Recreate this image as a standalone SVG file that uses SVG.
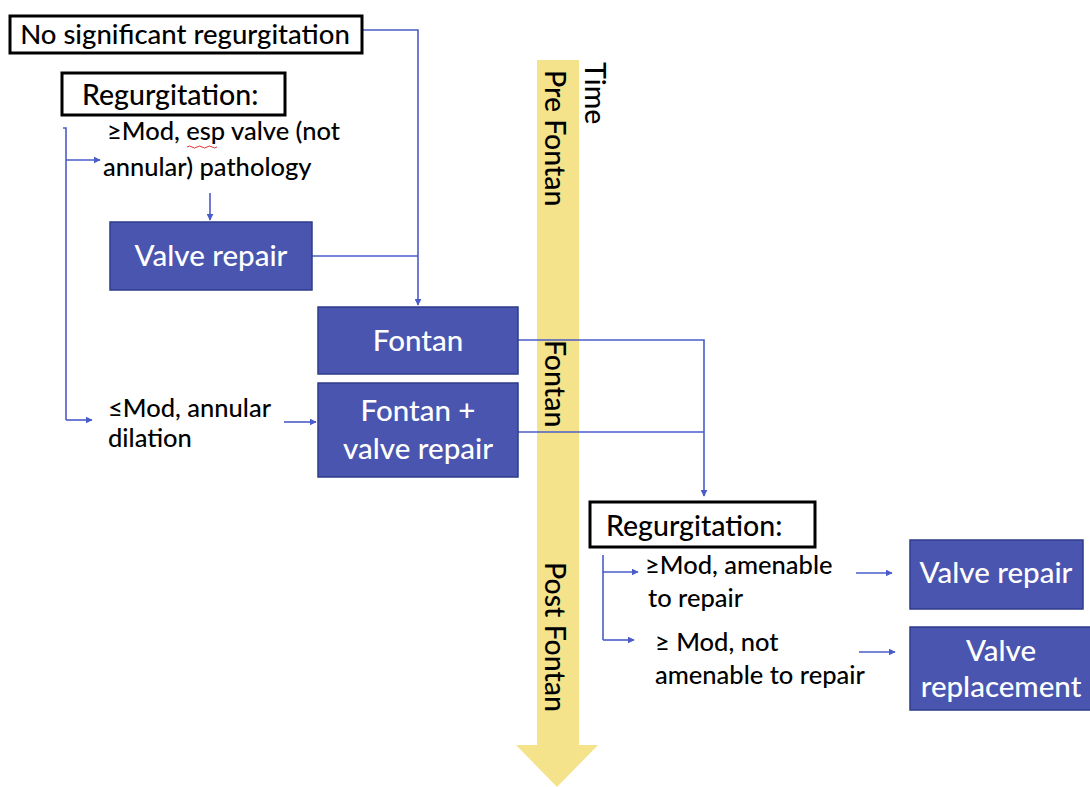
<svg xmlns="http://www.w3.org/2000/svg" width="1090" height="787" viewBox="0 0 1090 787">
<style>
text{font-family:Lato,"Liberation Sans",sans-serif;}
.box{fill:#4a55b0;stroke:#2e3b8c;stroke-width:1.5;}
.wt{fill:#fff;font-size:29.5px;text-anchor:middle;font-weight:500;}
.bt{fill:#000;font-size:25.5px;font-weight:500;}
.hb{fill:#fff;stroke:#000;stroke-width:3;}
.ln{fill:none;stroke:#4a5cc8;stroke-width:1.6;}
.ar{fill:none;stroke:#4a5cc8;stroke-width:1.6;marker-end:url(#ah);}
.vt{fill:#000;font-size:28.5px;font-weight:500;}
.ht{fill:#000;font-size:28.5px;font-weight:500;}
</style>
<defs>
<marker id="ah" viewBox="0 0 10 10" refX="9" refY="5" markerWidth="7" markerHeight="7" markerUnits="userSpaceOnUse" orient="auto"><path d="M0,0 L10,5 L0,10 z" fill="#4a5cc8"/></marker>
</defs>
<rect width="1090" height="787" fill="#fff"/>
<g id="timeline">
<path d="M537,60 H579 V745 H598 L557,787 L516,745 H537 Z" fill="#f4e38a"/>
<text class="vt" transform="translate(585,62) rotate(90)">Time</text>
<text class="vt" transform="translate(545,70) rotate(90)">Pre Fontan</text>
<text class="vt" transform="translate(545,340) rotate(90)">Fontan</text>
<text class="vt" transform="translate(545,562) rotate(90)">Post Fontan</text>
</g>
<g id="connectors">
<path class="ar" d="M362,30 H418 V305"/>
<path class="ln" d="M312,256 H418"/>
<path class="ln" d="M63,128 H66 V420"/>
<path class="ar" d="M66,160 H100"/>
<path class="ar" d="M66,420 H92"/>
<path class="ar" d="M210,193 V220"/>
<path class="ar" d="M284,422 H316"/>
<path class="ar" d="M518,340 H704 V496"/>
<path class="ln" d="M518,432 H704"/>
<path class="ln" d="M603,555 V640"/>
<path class="ar" d="M603,572 H638"/>
<path class="ar" d="M603,640 H634"/>
<path class="ar" d="M856,573 H892"/>
<path class="ar" d="M859,652 H895"/>
</g>
<g id="no-sig">
<rect class="hb" x="10" y="16" width="352" height="37"/>
<text class="ht" x="185" y="44" text-anchor="middle" style="font-size:27.5px">No significant regurgitation</text>
</g>
<g id="regurg-pre">
<rect class="hb" x="62" y="73" width="223" height="42"/>
<text class="ht" x="82" y="105">Regurgitation:</text>
</g>
<g id="opt-esp">
<text class="bt" x="107" y="140">≥Mod, esp valve (not</text>
<text class="bt" x="103" y="176">annular) pathology</text>
<path d="M187,147 q2.5,-2 5,0 t5,0 t5,0 t5,0 t5,0 t5,0" fill="none" stroke="#d33" stroke-width="1"/>
</g>
<g id="valve-repair-1">
<rect class="box" x="110" y="222" width="202" height="68"/>
<text class="wt" x="211" y="266">Valve repair</text>
</g>
<g id="fontan">
<rect class="box" x="318" y="307" width="200" height="67"/>
<text class="wt" x="418" y="351">Fontan</text>
</g>
<g id="opt-annular">
<text class="bt" x="108" y="417">≤Mod, annular</text>
<text class="bt" x="108" y="447">dilation</text>
</g>
<g id="fontan-vr">
<rect class="box" x="318" y="383" width="200" height="94"/>
<text class="wt" x="418" y="421">Fontan +</text>
<text class="wt" x="418" y="459">valve repair</text>
</g>
<g id="regurg-post">
<rect class="hb" x="590" y="502" width="225" height="45"/>
<text class="ht" x="606" y="536">Regurgitation:</text>
</g>
<g id="opt-amenable">
<text class="bt" x="645" y="574">≥Mod, amenable</text>
<text class="bt" x="648" y="607">to repair</text>
</g>
<g id="opt-not">
<text class="bt" x="655" y="651">≥ Mod, not</text>
<text class="bt" x="655" y="684">amenable to repair</text>
</g>
<g id="valve-repair-2">
<rect class="box" x="910" y="540" width="173" height="69"/>
<text class="wt" x="996" y="583">Valve repair</text>
</g>
<g id="valve-replacement">
<rect class="box" x="910" y="627" width="182" height="83"/>
<text class="wt" x="1001" y="661">Valve</text>
<text class="wt" x="1001" y="697">replacement</text>
</g>
</svg>
